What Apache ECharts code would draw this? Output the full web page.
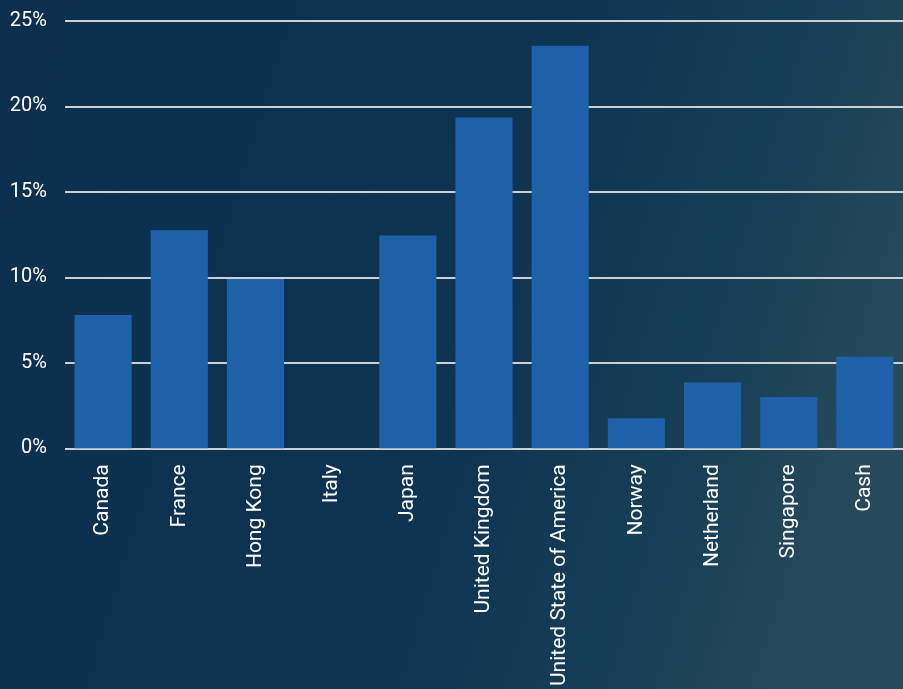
<!DOCTYPE html>
<html><head><meta charset="utf-8">
<script src="https://cdn.jsdelivr.net/npm/echarts@6/dist/echarts.min.js"></script>
<style>html,body{margin:0;padding:0;background:#0e3352;}#c{width:903px;height:689px;}</style>
</head><body><div id="c"></div>
<script>
const categories = ["Canada","France","Hong Kong","Italy","Japan","United Kingdom","United State of America","Norway","Netherland","Singapore","Cash"];
const values = [7.8, 12.75, 9.9, 0, 12.45, 19.35, 23.55, 1.75, 3.85, 3.0, 5.35];
const yTicks = [0, 5, 10, 15, 20, 25];

const chart = echarts.init(document.getElementById('c'));
chart.setOption({
  backgroundColor: {
    type: 'linear', x: 0, y: 0, x2: 1, y2: 0.4,
    colorStops: [
      {offset: 0, color: '#0c2f4e'},
      {offset: 0.6, color: '#0e3452'},
      {offset: 0.85, color: '#183f57'},
      {offset: 1, color: '#26495b'}
    ]
  },
  animation: false,
  grid: {left: 65, right: -9, top: 21, bottom: 240, containLabel: false},
  xAxis: {
    type: 'category',
    data: categories,
    axisLine: {show: false},
    axisTick: {show: false},
    axisLabel: {rotate: 90, color: '#ffffff', fontSize: 21, fontFamily: 'Roboto', margin: 16, interval: 0}
  },
  yAxis: {
    type: 'value',
    min: yTicks[0], max: yTicks[yTicks.length-1], interval: 5,
    axisLine: {show: false},
    axisTick: {show: false},
    axisLabel: {color: '#ffffff', fontSize: 20, fontFamily: 'Roboto', margin: 18, formatter: '{value}%'},
    splitLine: {lineStyle: {color: '#cdd0d3', width: 2}}
  },
  series: [{
    type: 'bar',
    data: values,
    barCategoryGap: '25%',
    itemStyle: {color: '#1e61a8'}
  }]
});
</script></body></html>
